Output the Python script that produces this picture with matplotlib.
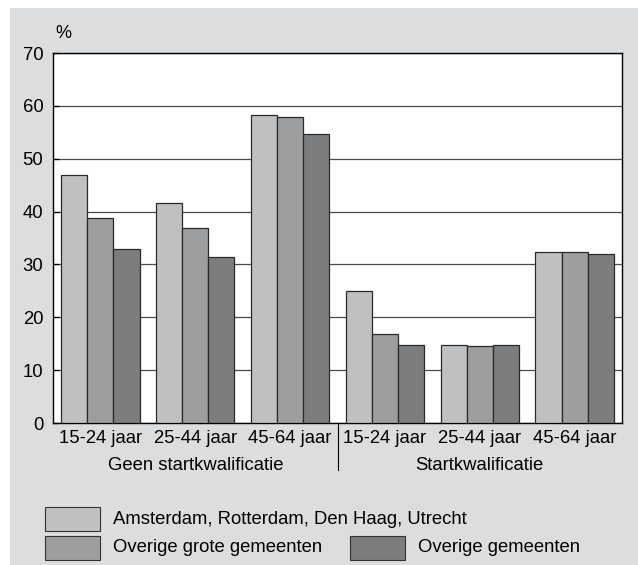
import numpy as np
import matplotlib as mpl
import matplotlib.pyplot as plt
from matplotlib.patches import Rectangle

mpl.rcParams['font.family'] = ['Liberation Sans', 'DejaVu Sans']

# data
age_groups = ['15-24 jaar', '25-44 jaar', '45-64 jaar', '15-24 jaar', '25-44 jaar', '45-64 jaar']
quals = ['Geen startkwalificatie', 'Startkwalificatie']
series = ['Amsterdam, Rotterdam, Den Haag, Utrecht', 'Overige grote gemeenten', 'Overige gemeenten']
big4 = [47.0, 41.7, 58.2, 24.9, 14.7, 32.4]
grote = [38.8, 36.9, 57.9, 16.8, 14.6, 32.3]
overig = [33.0, 31.5, 54.6, 14.8, 14.7, 32.0]
colors = ['#bfc0c2', '#9d9ea0', '#7c7d7f']

W, H = 638, 565
fig = plt.figure(figsize=(W / 100, H / 100), dpi=100)
fig.patch.set_facecolor('white')
# grey page background
fig.patches.append(Rectangle((10 / W, 0), 1, (H - 8) / H, transform=fig.transFigure,
                             facecolor='#dcdddf', edgecolor='none', zorder=-10))

ax = fig.add_axes([53 / W, (H - 423) / H, 569 / W, 370 / H])
ax.set_facecolor('white')

x = np.arange(len(age_groups))
bw = 0.275
for i, vals in enumerate([big4, grote, overig]):
    ax.bar(x + (i - 1) * bw, vals, bw, color=colors[i], edgecolor='#2a2a2a', linewidth=0.9, zorder=3)

ax.set_xlim(-0.5, 5.5)
ax.set_ylim(0, 70)
ax.set_yticks(range(0, 71, 10))
ax.yaxis.grid(True, color='#4a4a4a', linewidth=0.9, zorder=1)
ax.set_axisbelow(True)
ax.tick_params(axis='y', direction='in', length=4, width=0.9, labelsize=13.3, pad=7)
ax.set_xticks(x)
ax.set_xticklabels(age_groups, fontsize=13.3)
ax.tick_params(axis='x', length=0, pad=5)
for s in ax.spines.values():
    s.set_linewidth(1.0)

# separator between the two groups
ax.plot([2.5, 2.5], [0, -0.128], transform=ax.get_xaxis_transform(), color='black',
        linewidth=0.8, clip_on=False)
for j, q in enumerate(quals):
    ax.text(1 + 3 * j, -0.115, q, transform=ax.get_xaxis_transform(), ha='center', va='center',
            fontsize=13.3)

fig.text(63 / W, 1 - 33 / H, '%', fontsize=13, ha='center', va='center')

# legend
entries = [(0, 45, 519), (1, 45, 548), (2, 350, 548)]
for k, lx, ly in entries:
    fig.patches.append(Rectangle((lx / W, 1 - (ly + 12) / H), 55 / W, 24 / H, transform=fig.transFigure,
                                 facecolor=colors[k], edgecolor='#333333', linewidth=0.8))
    fig.text((lx + 68) / W, 1 - ly / H, series[k], fontsize=13.3, ha='left', va='center')

fig.savefig('out.png', dpi=100)
